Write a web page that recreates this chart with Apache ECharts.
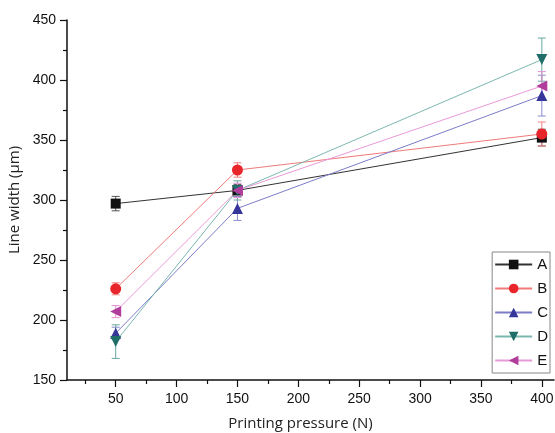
<!DOCTYPE html>
<html><head><meta charset="utf-8">
<script src="https://cdn.jsdelivr.net/npm/echarts@6/dist/echarts.min.js"></script>
<style>html,body{margin:0;padding:0;background:#fff}#c{width:555px;height:433px}</style>
</head><body><div id="c"></div>
<script>
const pressures = [50, 150, 400];
const seriesNames = ['A', 'B', 'C', 'D', 'E'];
const valuesA = [297, 308, 352];
const valuesB = [226, 325, 355];
const valuesC = [189, 293, 387];
const valuesD = [182, 308, 417];
const valuesE = [207, 308, 395];
const errorsA = [6, 5, 7];
const errorsB = [5, 6, 10];
const errorsC = [5, 10, 17];
const errorsD = [14, 8, 18];
const errorsE = [5, 6, 12];
const xMajorTicks = [50, 100, 150, 200, 250, 300, 350, 400];
const xMinorTicks = [25, 75, 125, 175, 225, 275, 325, 375];

const values = [valuesA, valuesB, valuesC, valuesD, valuesE];
const errors = [errorsA, errorsB, errorsC, errorsD, errorsE];
const markerColors = ['#111111', '#e8252b', '#35359a', '#1f6e6a', '#b03c9c'];
const lineColors = ['#333333', '#f07a7a', '#7c7cc8', '#7cb8b0', '#e89ad8'];
const errColors = ['#555555', '#f08080', '#8a8ad0', '#6aa8a0', '#e090d0'];
const symbols = ['rect', 'circle', 'triangle', 'triangle', 'triangle'];
const rotates = [0, 0, 0, 180, 90];
const sizes = [10, 11, 11, 11, 11];

const chart = echarts.init(document.getElementById('c'));
const series = [];
seriesNames.forEach((n, i) => {
  series.push({
    type: 'custom', name: n + '_err', silent: true, z: 1,
    data: pressures.map((p, j) => [p, values[i][j], errors[i][j]]),
    renderItem: function (params, api) {
      const x = api.value(0), y = api.value(1), e = api.value(2);
      const top = api.coord([x, y + e]);
      const bot = api.coord([x, y - e]);
      const hw = 4;
      const st = { stroke: errColors[i], lineWidth: 1 };
      return { type: 'group', children: [
        { type: 'line', shape: { x1: top[0], y1: top[1], x2: bot[0], y2: bot[1] }, style: st },
        { type: 'line', shape: { x1: top[0] - hw, y1: top[1], x2: top[0] + hw, y2: top[1] }, style: st },
        { type: 'line', shape: { x1: bot[0] - hw, y1: bot[1], x2: bot[0] + hw, y2: bot[1] }, style: st }
      ]};
    }
  });
});
seriesNames.forEach((n, i) => {
  series.push({
    type: 'line', name: n, z: 3,
    data: pressures.map((p, j) => [p, values[i][j]]),
    symbol: symbols[i], symbolSize: sizes[i], symbolRotate: rotates[i],
    showAllSymbol: true,
    lineStyle: { color: lineColors[i], width: 1 },
    itemStyle: { color: markerColors[i], borderWidth: 0 },
    emphasis: { disabled: true }
  });
});

chart.setOption({
  animation: false,
  backgroundColor: '#ffffff',
  grid: { left: 67, right: 1, top: 20, bottom: 53, containLabel: false, outerBoundsMode: 'none' },
  legend: {
    data: seriesNames,
    right: 5, top: 252,
    orient: 'vertical',
    itemWidth: 37, itemHeight: 12, itemGap: 9,
    padding: [5, 2, 5, 2],
    borderColor: '#888888', borderWidth: 1, backgroundColor: '#ffffff',
    textStyle: { fontFamily: 'Liberation Sans', fontSize: 15, color: '#111', padding: [0, 0, 0, 0] }
  },
  xAxis: [{
    type: 'value', min: 10, max: 410,
    name: 'Printing pressure (N)', nameLocation: 'middle', nameGap: 36,
    nameTextStyle: { fontFamily: 'Open Sans', fontSize: 15, color: '#222', padding: [0, 20, 0, 0] },
    axisLine: { show: true, onZero: false, lineStyle: { color: '#111', width: 1.5 } },
    axisTick: { show: true, inside: false, length: 7, customValues: xMajorTicks, lineStyle: { color: '#111', width: 1.2 } },
    axisLabel: { customValues: xMajorTicks, margin: 12, fontFamily: 'Liberation Sans', fontSize: 14, color: '#111' },
    splitLine: { show: false }
  }, {
    type: 'value', min: 10, max: 410, position: 'bottom',
    axisLine: { show: false },
    axisTick: { show: true, inside: false, length: 4, customValues: xMinorTicks, lineStyle: { color: '#111', width: 1.2 } },
    axisLabel: { show: false },
    splitLine: { show: false }
  }],
  yAxis: {
    type: 'value', min: 150, max: 450, interval: 50,
    name: 'Line width (\u03bcm)', nameLocation: 'middle', nameGap: 40,
    nameTextStyle: { fontFamily: 'Open Sans', fontSize: 15, color: '#222' },
    axisLine: { show: true, lineStyle: { color: '#111', width: 1.5 } },
    axisTick: { show: true, inside: false, length: 7, lineStyle: { color: '#111', width: 1.2 } },
    minorTick: { show: true, splitNumber: 2, length: 4, lineStyle: { color: '#111', width: 1.2 } },
    axisLabel: { margin: 11, fontFamily: 'Liberation Sans', fontSize: 14, color: '#111' },
    splitLine: { show: false }
  },
  series: series
});
</script></body></html>
